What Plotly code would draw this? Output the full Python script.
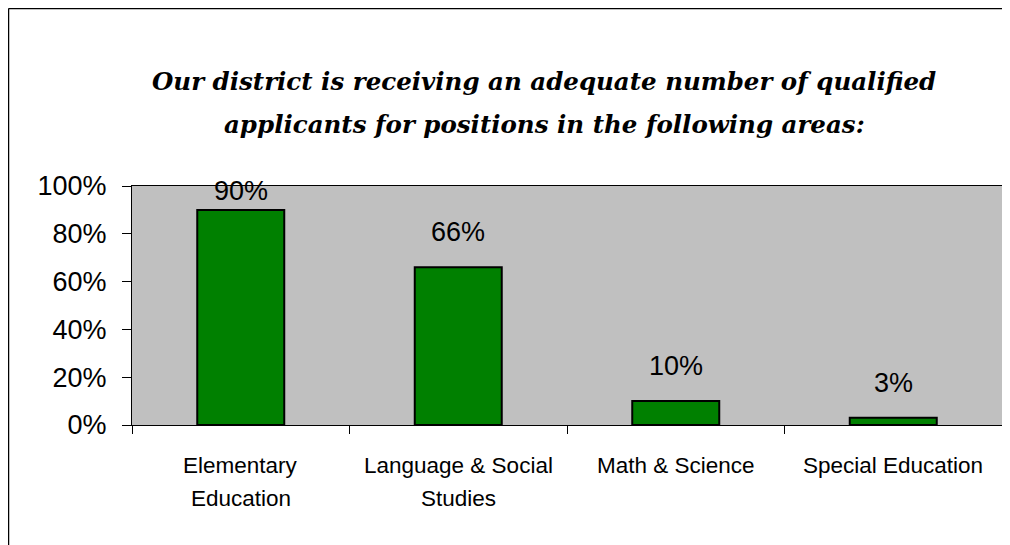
import plotly.graph_objects as go

# ---- data ----
categories = ["Elementary Education", "Language & Social Studies", "Math & Science", "Special Education"]
label_line1 = ["Elementary", "Language & Social", "Math & Science", "Special Education"]
label_line2 = ["Education", "Studies", "", ""]
values = [0.90, 0.66, 0.10, 0.03]
y_ticks = [0, 0.2, 0.4, 0.6, 0.8, 1.0]
title_lines = [
    "Our district is receiving an adequate number of qualified",
    "applicants for positions in the following areas:",
]

# ---- layout geometry (pixels, figure coords; page adds 8px body margin) ----
OFF = 8
W, H = 1002, 537
L, R, T, B = 132 - OFF, 8, 186 - OFF, 120
PW, PH = W - L - R, H - T - B


def px_x(px):  # px given in page coords
    return (px - OFF - L) / PW


def px_y(py):
    return (H - B - (py - OFF)) / PH


FONT = "Liberation Sans, Arial, sans-serif"

fig = go.Figure()
fig.add_trace(go.Bar(
    x=categories, y=values,
    marker=dict(color="#008000", line=dict(color="black", width=2)),
    hoverinfo="x+y",
))

annotations = []
# data labels
for c, v in zip(categories, values):
    annotations.append(dict(
        x=c, y=min(v + 0.146, 0.98), xref="x", yref="y",
        text=f"{round(v*100)}%", showarrow=False,
        font=dict(family=FONT, size=27, color="black"),
        xanchor="center", yanchor="middle",
    ))
# category labels
for c, l1, l2 in zip(categories, label_line1, label_line2):
    annotations.append(dict(
        x=c, y=px_y(465), xref="x", yref="paper", text=l1, showarrow=False,
        font=dict(family=FONT, size=22.5, color="black"),
        xanchor="center", yanchor="middle",
    ))
    if l2:
        annotations.append(dict(
            x=c, y=px_y(498), xref="x", yref="paper", text=l2, showarrow=False,
            font=dict(family=FONT, size=22.5, color="black"),
            xanchor="center", yanchor="middle",
        ))
# title
for line, py in zip(title_lines, [81, 124]):
    annotations.append(dict(
        x=px_x(544), y=px_y(py), xref="paper", yref="paper", text=f"<b><i>{line}</i></b>",
        showarrow=False, font=dict(family="DejaVu Serif, serif", size=24.5, color="black"),
        xanchor="center", yanchor="middle",
    ))

border = dict(color="black", width=1.5)
fig.update_layout(
    width=W, height=H,
    margin=dict(l=L, r=R, t=T, b=B, autoexpand=False),
    paper_bgcolor="white", plot_bgcolor="#C0C0C0",
    bargap=0.6, showlegend=False,
    annotations=annotations,
    shapes=[
        # white cover to the right of the plot, above it
        dict(type="rect", xref="paper", yref="paper",
             x0=px_x(995), x1=px_x(1012), y0=px_y(184), y1=px_y(10),
             fillcolor="white", line=dict(width=0), layer="above"),
        dict(type="line", xref="paper", yref="paper",
             x0=px_x(8.5), x1=px_x(1010), y0=px_y(8.5), y1=px_y(8.5), line=border, layer="above"),
        dict(type="line", xref="paper", yref="paper",
             x0=px_x(8.5), x1=px_x(8.5), y0=px_y(8.5), y1=px_y(545), line=border, layer="above"),
    ],
    xaxis=dict(
        showticklabels=False, ticks="outside", tickson="boundaries", ticklen=8,
        tickcolor="black", showline=True, linecolor="black", linewidth=1, mirror=True,
        showgrid=False,
    ),
    yaxis=dict(
        range=[0, 1], tickvals=y_ticks, tickformat=".0%", ticks="outside", ticklen=9,
        tickcolor="black", showline=True, linecolor="black", linewidth=1, mirror=True,
        showgrid=False, zeroline=False, ticklabelstandoff=10,
        tickfont=dict(family=FONT, size=27, color="black"),
    ),
)

fig.write_html("out.html")
